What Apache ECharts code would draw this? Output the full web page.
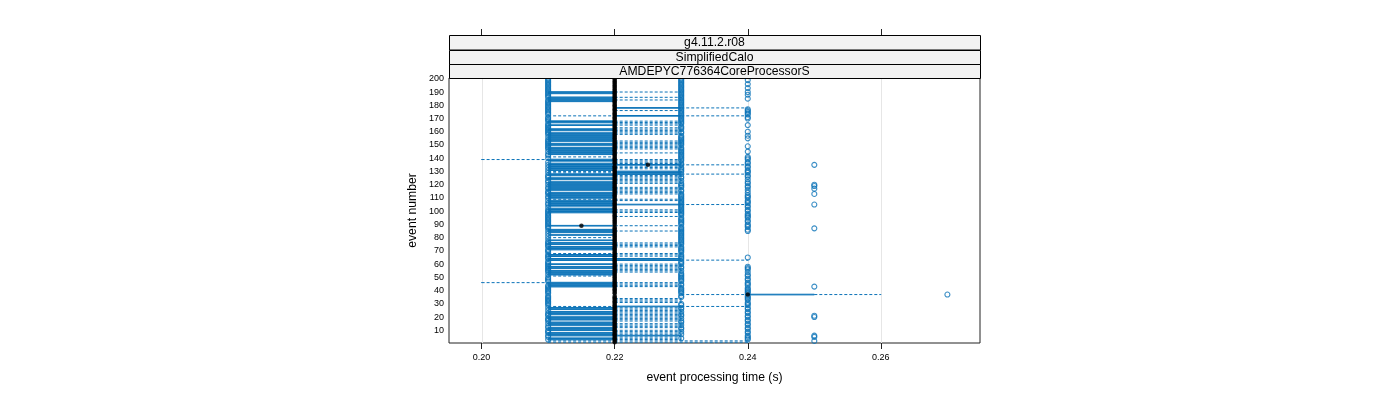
<!DOCTYPE html>
<html>
<head>
<meta charset="utf-8">
<script src="https://cdn.jsdelivr.net/npm/echarts@6/dist/echarts.min.js"></script>
<style>html,body{margin:0;padding:0;background:#fff}#chart{width:1400px;height:400px}</style>
</head>
<body>
<div id="chart"></div>
<script>
// ---- data (times in milliseconds, event n = index + 1) ----
const whiskerLowMs = [
210,210,210,210,220,210,210,210,220,210,
210,210,220,210,210,210,220,210,210,210,
220,210,210,210,220,210,210,210,220,220,
220,220,220,220,220,220,230,220,220,220,
220,220,210,210,210,200,220,220,220,220,
210,210,210,210,210,220,210,210,220,210,
220,220,210,210,220,210,210,210,220,220,
210,210,210,220,210,210,220,210,220,210,
220,210,220,210,210,210,220,220,210,220,
220,220,220,220,220,220,220,220,210,210,
210,210,220,210,210,210,210,210,210,210,
210,210,210,210,220,210,210,210,210,210,
210,210,220,210,210,220,210,210,210,210,
210,210,210,210,210,210,220,210,200,220,
210,220,210,210,210,210,210,210,220,210,
210,220,210,210,210,210,210,210,210,220,
210,210,220,220,210,220,210,210,220,220,
220,210,220,220,220,220,220,220,220,220,
220,220,210,210,210,210,220,220,210,210,
220,220,220,220,220,220,220,220,220,220];
const boxLowMs = [
220,220,210,210,220,210,210,210,220,210,
210,210,220,210,210,210,220,210,210,210,
220,210,210,210,220,210,210,220,220,220,
220,220,220,220,220,220,240,220,220,220,
220,220,210,210,210,210,220,220,220,220,
220,210,210,210,210,220,210,210,220,210,
220,220,210,210,220,210,210,220,220,220,
210,210,210,220,210,210,220,210,220,220,
220,210,220,210,210,210,220,220,210,220,
220,220,220,220,220,220,220,220,210,210,
210,210,220,210,210,210,210,210,220,210,
210,210,210,210,220,210,210,210,210,210,
210,210,220,210,210,220,210,210,220,220,
210,210,210,210,210,210,220,210,210,220,
220,220,210,210,210,210,210,210,220,210,
210,220,210,210,210,210,210,210,210,220,
210,210,220,220,210,220,210,210,220,220,
220,220,220,220,220,220,220,220,220,220,
220,220,210,210,210,210,220,220,210,210,
220,220,220,220,220,220,220,220,220,220];
const medianMs = [
220,220,220,220,220,220,220,220,220,220,
220,220,220,220,220,220,220,220,220,220,
220,220,220,220,220,220,220,220,220,220,
220,220,220,220,220,220,240,220,220,220,
220,220,220,220,220,220,220,220,220,220,
220,220,220,220,220,220,220,220,220,220,
220,220,220,220,220,220,220,220,220,220,
220,220,220,220,220,220,220,220,220,220,
220,220,220,220,220,220,220,220,215,220,
220,220,220,220,220,220,220,220,220,220,
220,220,220,220,220,220,220,220,220,220,
220,220,220,220,220,220,220,220,220,220,
220,220,220,220,220,220,220,220,220,220,
220,220,220,220,225,220,220,220,220,220,
220,220,220,220,220,220,220,220,220,220,
220,220,220,220,220,220,220,220,220,220,
220,220,220,220,220,220,220,220,220,220,
220,220,220,220,220,220,220,220,220,220,
220,220,220,220,220,220,220,220,220,220,
220,220,220,220,220,220,220,220,220,220];
const boxHighMs = [
220,220,220,220,220,230,220,220,220,220,
220,220,220,220,220,220,220,220,220,220,
220,220,220,220,220,220,220,230,220,220,
220,220,220,220,220,220,250,220,220,220,
220,220,220,220,220,220,220,220,220,220,
220,220,220,220,220,220,220,220,220,220,
220,220,230,230,220,220,220,220,220,220,
220,220,220,220,220,220,220,220,220,220,
220,220,220,220,220,220,220,220,220,220,
220,220,220,220,220,220,220,220,220,220,
220,220,220,220,230,220,220,220,220,220,
220,220,220,220,220,220,220,220,220,220,
220,220,220,220,220,220,220,230,230,230,
220,220,220,220,230,220,220,220,220,220,
220,220,220,220,220,220,220,220,220,220,
220,220,220,220,220,220,220,220,220,220,
220,220,220,220,220,220,220,220,220,220,
220,230,220,220,220,220,220,230,220,220,
220,220,220,220,220,220,220,220,220,220,
220,220,220,220,220,220,220,220,220,220];
const whiskerHighMs = [
240,240,230,230,230,230,230,230,230,230,
220,230,230,230,230,220,230,230,230,230,
230,230,230,230,230,230,230,240,220,220,
230,230,230,230,220,220,260,220,220,220,
220,220,230,230,230,230,220,220,220,220,
220,220,220,230,230,230,230,230,230,230,
220,220,240,230,220,230,230,230,220,220,
220,220,230,230,230,230,220,220,220,220,
220,220,220,220,230,220,220,220,230,220,
220,220,220,220,220,230,220,220,230,230,
230,220,220,220,240,220,220,230,230,220,
220,220,230,230,230,230,230,230,220,220,
230,230,230,230,230,230,230,240,230,230,
220,230,230,230,240,230,230,230,230,220,
220,220,220,230,220,220,230,230,230,230,
230,230,230,220,220,220,220,230,230,230,
230,230,230,220,230,230,230,230,220,220,
220,240,220,220,220,230,220,240,220,220,
220,220,220,230,220,230,220,220,220,230,
220,220,220,220,220,220,220,220,220,220];
// outliers: event numbers with an outlying value at the given time
const outlier210Events = [3,5,6,8,9,10,12,13,15,17,18,19,21,22,23,25,27,29,30,31,32,33,34,35,36,38,39,40,41,42,43,44,47,48,49,50,52,54,55,56,57,58,59,60,61,62,64,65,66,67,69,70,71,73,74,75,76,77,79,81,83,85,87,88,89,90,91,92,93,94,95,96,97,98,99,100,101,103,105,106,108,110,111,113,114,115,117,118,120,122,123,125,126,127,129,131,133,135,137,140,142,143,145,147,148,149,150,151,152,153,154,156,158,159,160,161,162,163,164,165,166,168,169,170,171,173,174,175,176,177,178,179,180,181,182,183,184,186,187,188,189,190,191,192,193,194,195,196,197,198,199,200];
const outlier230Events = [4,7,9,11,12,14,16,17,19,21,22,24,26,27,29,30,35,36,38,39,40,41,42,44,45,47,48,49,50,51,52,53,55,57,58,60,61,62,64,65,66,67,69,70,71,72,73,75,76,77,78,79,80,81,82,83,84,85,86,87,88,90,91,92,93,94,95,97,98,99,100,101,102,103,104,105,106,107,108,109,110,111,112,113,115,116,118,119,120,121,123,125,126,128,130,131,132,133,135,136,138,139,140,141,142,143,144,145,146,147,148,150,151,152,153,154,155,156,157,159,160,162,163,164,166,167,168,169,170,171,172,173,174,175,176,177,178,179,180,181,182,183,184,185,186,187,188,189,190,191,192,193,194,195,196,197,198,199,200];
const outlier240Events = [3,4,5,6,8,9,11,12,14,15,17,18,20,21,23,24,26,27,29,30,31,33,34,35,36,38,39,40,41,42,44,45,46,48,49,51,52,54,56,57,58,65,85,86,88,89,90,92,93,95,96,97,98,100,101,103,104,106,107,108,110,111,112,114,116,118,119,121,122,124,126,127,129,130,131,133,134,136,137,139,140,141,145,149,155,157,160,165,170,171,173,174,175,176,177,185,188,190,193,196,199];
const outlier250Events = [2,5,6,20,21,43,87,105,113,117,119,120,135];
const outlier270Events = [37];
const xTicks = [0.20, 0.22, 0.24, 0.26];
const yTicks = [10,20,30,40,50,60,70,80,90,100,110,120,130,140,150,160,170,180,190,200];
const stripLabels = ['g4.11.2.r08', 'SimplifiedCalo', 'AMDEPYC776364CoreProcessorS'];
const xTitle = 'event processing time (s)';
const yTitle = 'event number';

// ---- build ----
const BLUE = '#0b73b8';
const FONT = 'Liberation Sans, Arial, sans-serif';
const boxRows = whiskerLowMs.map((lo, i) => [i + 1, lo / 1000, boxLowMs[i] / 1000, medianMs[i] / 1000, boxHighMs[i] / 1000, whiskerHighMs[i] / 1000]);
const medianPts = medianMs.map((m, i) => [m / 1000, i + 1]);
const outlierPts = [];
[[0.21, outlier210Events], [0.23, outlier230Events], [0.24, outlier240Events], [0.25, outlier250Events], [0.27, outlier270Events]]
  .forEach(([v, evs]) => evs.forEach(e => outlierPts.push([v, e])));

const X_MIN = 0.1951, X_MAX = 0.2749, Y_MIN = 0.4, Y_MAX = 200.6;
const G = {left: 449, top: 78, width: 531, height: 265};

const chart = echarts.init(document.getElementById('chart'), null, {renderer: 'canvas'});
const stripTop = 35, stripH = [14.5, 14.5, 14];
const graphics = [];
let yy = stripTop;
stripLabels.forEach((t, k) => {
  graphics.push({type: 'rect', shape: {x: G.left + 0.5, y: Math.round(yy) + 0.5, width: G.width, height: stripH[k]}, style: {fill: '#f2f2f2', stroke: '#000', lineWidth: 1}, z: 10});
  graphics.push({type: 'text', x: G.left + G.width / 2, y: yy + stripH[k] / 2 + 0.5, style: {text: t, fill: '#000', font: '12.2px ' + FONT, textAlign: 'center', textVerticalAlign: 'middle'}, z: 11});
  yy += stripH[k];
});
graphics.push({type: 'text', x: G.left + G.width / 2, y: 378, style: {text: xTitle, fill: '#000', font: '12.2px ' + FONT, textAlign: 'center', textVerticalAlign: 'middle'}});
graphics.push({type: 'text', x: 413, y: G.top + G.height / 2, rotation: Math.PI / 2, style: {text: yTitle, fill: '#000', font: '12.2px ' + FONT, textAlign: 'center', textVerticalAlign: 'middle'}});

chart.setOption({
  animation: false,
  backgroundColor: '#fff',
  grid: {left: G.left, top: G.top, width: G.width, height: G.height, show: true, borderColor: '#222', borderWidth: 1, containLabel: false},
  xAxis: [
    {type: 'value', min: X_MIN, max: X_MAX, position: 'bottom',
     axisLine: {show: false},
     axisTick: {show: true, customValues: xTicks, length: 6, lineStyle: {color: '#222'}},
     axisLabel: {show: true, customValues: xTicks, formatter: v => v.toFixed(2), fontSize: 9, color: '#000', fontFamily: FONT, margin: 10},
     splitLine: {show: false}},
    {type: 'value', min: X_MIN, max: X_MAX, position: 'top', offset: 43,
     axisLine: {show: false},
     axisTick: {show: true, customValues: xTicks, length: 6, lineStyle: {color: '#222'}},
     axisLabel: {show: false},
     splitLine: {show: false}}
  ],
  yAxis: {type: 'value', min: Y_MIN, max: Y_MAX,
    axisLine: {show: false}, axisTick: {show: false},
    axisLabel: {show: true, customValues: yTicks, fontSize: 9, color: '#000', fontFamily: FONT, margin: 5},
    splitLine: {show: false}},
  graphic: graphics,
  series: [
    {type: 'custom', name: 'grid', z: 1, silent: true, data: xTicks.map(v => [v]),
     encode: {x: 0},
     renderItem: (params, api) => {
       const a = api.coord([api.value(0), Y_MIN]);
       const b = api.coord([api.value(0), Y_MAX]);
       const x = Math.round(a[0]) + 0.5;
       return {type: 'line', shape: {x1: x, y1: a[1], x2: x, y2: b[1]}, style: {stroke: '#e6e6e6', lineWidth: 1}};
     }},
    {type: 'custom', name: 'box', z: 2, silent: true, data: boxRows,
     encode: {x: [1, 2, 4, 5], y: 0},
     renderItem: (params, api) => {
       const e = api.value(0), lo = api.value(1), q1 = api.value(2), q3 = api.value(4), hi = api.value(5);
       const px = v => api.coord([v, e])[0];
       const yc = api.coord([q1, e])[1];
       const h = api.size([0, 0.5])[1];
       const solid = {stroke: BLUE, fill: 'none', lineWidth: 1};
       const dash = {stroke: BLUE, fill: 'none', lineWidth: 1, lineDash: [3, 2]};
       const ch = [];
       if (q3 > q1) ch.push({type: 'rect', shape: {x: px(q1), y: yc - h / 2, width: px(q3) - px(q1), height: h}, style: solid});
       if (lo < q1) {
         ch.push({type: 'line', shape: {x1: px(lo), y1: yc, x2: px(q1), y2: yc}, style: dash});
         ch.push({type: 'line', shape: {x1: px(lo), y1: yc - h / 2, x2: px(lo), y2: yc + h / 2}, style: solid});
       }
       if (hi > q3) {
         ch.push({type: 'line', shape: {x1: px(q3), y1: yc, x2: px(hi), y2: yc}, style: dash});
         ch.push({type: 'line', shape: {x1: px(hi), y1: yc - h / 2, x2: px(hi), y2: yc + h / 2}, style: solid});
       }
       return {type: 'group', children: ch};
     }},
    {type: 'scatter', name: 'outliers', z: 3, silent: true, data: outlierPts, symbol: 'circle', symbolSize: 5,
     itemStyle: {color: 'rgba(0,0,0,0)', borderColor: BLUE, borderWidth: 1.1}},
    {type: 'scatter', name: 'median', z: 4, silent: true, data: medianPts, symbol: 'circle', symbolSize: 4.5,
     itemStyle: {color: '#000'}}
  ]
});
</script>
</body>
</html>
